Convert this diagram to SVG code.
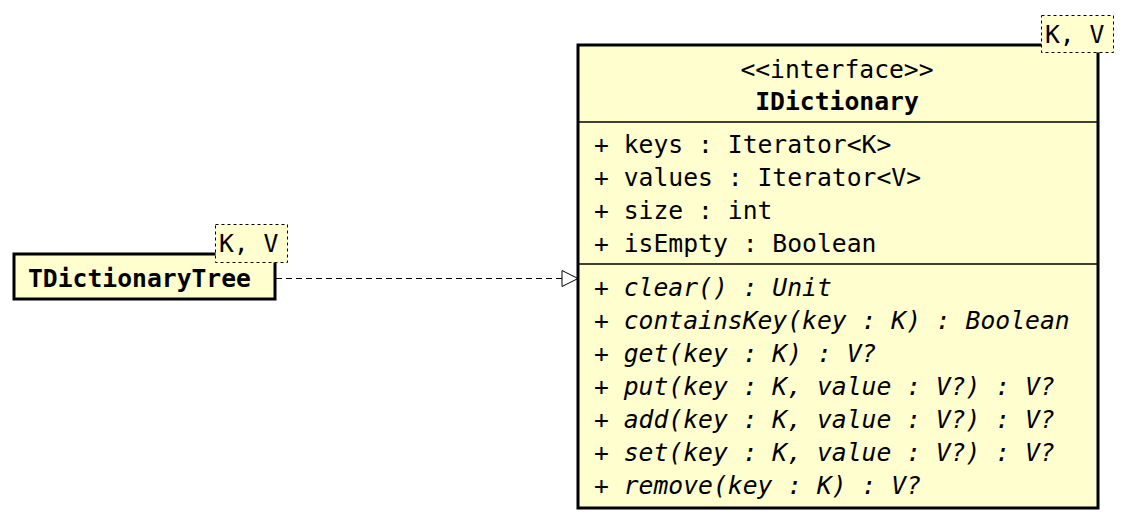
<svg xmlns="http://www.w3.org/2000/svg" width="1126" height="523" viewBox="0 0 1126 523">
<style>
text{font-family:"DejaVu Sans Mono","Liberation Mono",monospace;font-size:24.7px;fill:#000}
.b{font-weight:bold}
.i{font-style:italic}
.box{fill:#FEFECE;stroke:#000;stroke-width:3}
.tpl{fill:#FEFECE;stroke:#000;stroke-width:1;stroke-dasharray:3,3}
.div{stroke:#000;stroke-width:1.5}
</style>
<defs>
<marker id="tri" markerWidth="20" markerHeight="20" refX="17" refY="9" orient="auto" markerUnits="userSpaceOnUse">
<path d="M1,1 L17,9 L1,17 Z" fill="#fff" stroke="#000" stroke-width="1"/>
</marker>
</defs>
<g id="connectors">
<line x1="276" y1="278.5" x2="578" y2="278.5" stroke="#000" stroke-width="1" stroke-dasharray="6,4" marker-end="url(#tri)"/>
</g>
<g id="TDictionaryTree">
<rect class="box" x="14" y="254" width="261" height="45"/>
<text class="b" x="28" y="287">TDictionaryTree</text>
<rect class="tpl" x="215.5" y="224.5" width="72" height="38"/>
<text x="219" y="252">K, V</text>
</g>
<g id="IDictionary">
<rect class="box" x="578" y="45" width="520" height="463"/>
<text x="837" y="78" text-anchor="middle">&lt;&lt;interface&gt;&gt;</text>
<text class="b" x="837" y="110" text-anchor="middle">IDictionary</text>
<line class="div" x1="578" y1="122" x2="1098" y2="122"/>
<text x="594" y="153">+ keys : Iterator&lt;K&gt;</text>
<text x="594" y="186">+ values : Iterator&lt;V&gt;</text>
<text x="594" y="219">+ size : int</text>
<text x="594" y="252">+ isEmpty : Boolean</text>
<line class="div" x1="578" y1="264" x2="1098" y2="264"/>
<text class="i" x="594" y="296">+ clear() : Unit</text>
<text class="i" x="594" y="329">+ containsKey(key : K) : Boolean</text>
<text class="i" x="594" y="362">+ get(key : K) : V?</text>
<text class="i" x="594" y="395">+ put(key : K, value : V?) : V?</text>
<text class="i" x="594" y="428">+ add(key : K, value : V?) : V?</text>
<text class="i" x="594" y="461">+ set(key : K, value : V?) : V?</text>
<text class="i" x="594" y="494">+ remove(key : K) : V?</text>
<rect class="tpl" x="1041.5" y="15.5" width="72" height="37"/>
<text x="1045" y="43">K, V</text>
</g>
</svg>
